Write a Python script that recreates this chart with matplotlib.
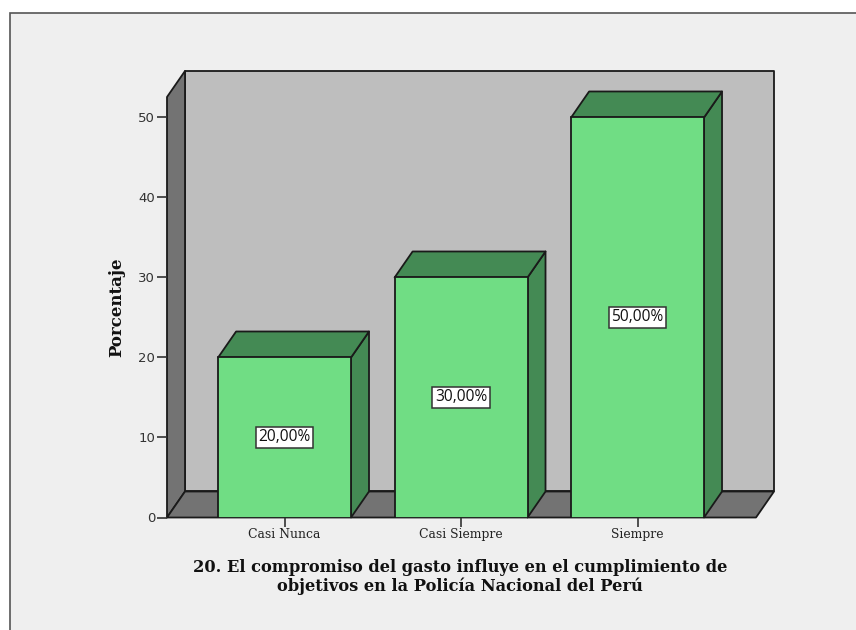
import matplotlib
matplotlib.use("Agg")
import matplotlib.pyplot as plt
from matplotlib.patches import Polygon, Rectangle

categorias = ["Casi Nunca", "Casi Siempre", "Siempre"]
porcentajes = [20, 30, 50]
etiquetas = ["20,00%", "30,00%", "50,00%"]
yticks = [0, 10, 20, 30, 40, 50]
titulo = "20. El compromiso del gasto influye en el cumplimiento de\nobjetivos en la Policía Nacional del Perú"

W, H = 856, 630
verde = "#70DD84"
verde_osc = "#448A54"
gris_fondo = "#BEBEBE"
gris_osc = "#737373"
borde = "#1a1a1a"

fig = plt.figure(figsize=(W / 100, H / 100), dpi=100, facecolor="white")

# marco del grafico (abierto abajo y a la derecha)
fig.add_artist(Rectangle((10 / W, -0.05), 1, 1.05 - 13 / H, transform=fig.transFigure,
                         facecolor="#EFEFEF", edgecolor="#555555", linewidth=1.2, zorder=-5))

ax = fig.add_axes([167 / W, 1 - 517.5 / H, (756 - 167) / W, (517.5 - 97) / H])
ax.set_xlim(-0.666, 2.671)
ax.set_ylim(0, 52.56)
ax.patch.set_visible(False)

# profundidad 3D en unidades de datos
dx = 18 / 176.5
dy = 26 / 8
x0, x1 = ax.get_xlim()
ymax = ax.get_ylim()[1]


def poly(pts, color, z=1):
    ax.add_patch(Polygon(pts, closed=True, facecolor=color, edgecolor=borde,
                         linewidth=1.3, clip_on=False, zorder=z, joinstyle="round"))


# paredes
poly([(x0 + dx, dy), (x1 + dx, dy), (x1 + dx, ymax + dy), (x0 + dx, ymax + dy)], gris_fondo)
poly([(x0, 0), (x0 + dx, dy), (x0 + dx, ymax + dy), (x0, ymax)], gris_osc)
poly([(x0, 0), (x1, 0), (x1 + dx, dy), (x0 + dx, dy)], gris_osc)

# barras
ancho = 0.753
for i, v in enumerate(porcentajes):
    l, r = i - ancho / 2, i + ancho / 2
    poly([(r, 0), (r + dx, dy), (r + dx, v + dy), (r, v)], verde_osc, 3)
    poly([(l, v), (r, v), (r + dx, v + dy), (l + dx, v + dy)], verde_osc, 3)
bars = ax.bar(range(3), porcentajes, width=ancho, color=verde, edgecolor=borde,
              linewidth=1.3, zorder=4)

# etiquetas de valor
for i, v in enumerate(porcentajes):
    ax.text(i, v / 2, etiquetas[i], ha="center", va="center", fontsize=11.2, zorder=6,
            family="Open Sans", color="#111111",
            bbox=dict(boxstyle="square,pad=0.16", facecolor="white", edgecolor="#333333", linewidth=1.1))

for s in ax.spines.values():
    s.set_visible(False)

ax.set_yticks(yticks)
ax.set_xticks(range(3))
ax.set_xticklabels(categorias, family="DejaVu Serif", fontsize=8.9, color="#222222")
ax.tick_params(axis="y", length=7, width=1.2, color="#333333", labelsize=9.5,
               labelcolor="#333333", pad=1.5)
ax.tick_params(axis="x", length=6.5, width=1.2, color="#333333", pad=1)
ax.set_ylabel("Porcentaje", family="DejaVu Serif", fontweight="bold", fontsize=12, color="#111111")
ax.yaxis.set_label_coords((125 - 167) / (756 - 167), (517.5 - 307) / (517.5 - 97))

fig.text(460 / W, 1 - 577 / H, titulo, ha="center", va="center", family="DejaVu Serif",
         fontweight="bold", fontsize=11.68, color="#111111", linespacing=1.15)

fig.savefig("out.png", dpi=100, facecolor=fig.get_facecolor())
